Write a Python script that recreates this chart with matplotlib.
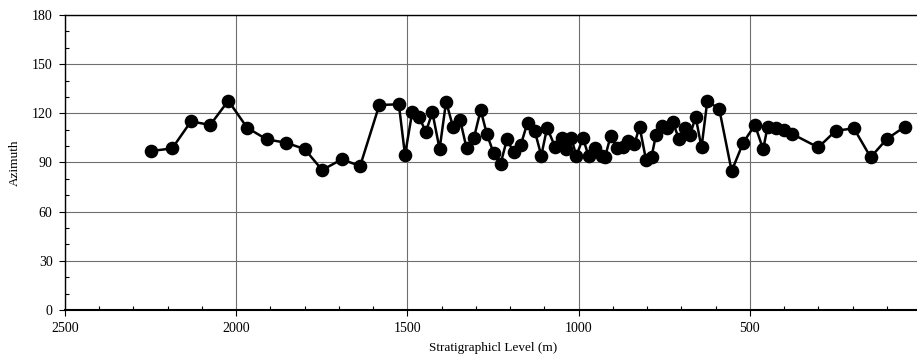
import matplotlib
matplotlib.use("Agg")
import matplotlib.pyplot as plt
from matplotlib.ticker import MultipleLocator

# stratigraphic level (m) and azimuth
level = [2249, 2187, 2132, 2076, 2023, 1968, 1911, 1855, 1800, 1749,
         1692, 1638, 1582, 1525, 1507, 1486, 1466, 1446, 1427, 1406,
         1387, 1367, 1346, 1327, 1306, 1286, 1268, 1248, 1228, 1209,
         1190, 1169, 1149, 1128, 1109, 1092, 1068, 1048, 1038, 1021,
         1007, 987, 971, 953, 933, 923, 906, 888, 870, 857,
         837, 822, 803, 787, 774, 756, 743, 725, 707, 689,
         675, 658, 641, 624, 589, 553, 519, 485, 461, 448,
         424, 400, 376, 300, 249, 196, 147, 100, 47]
azimuth = [97.0, 98.6, 115.1, 112.9, 127.7, 111.2, 104.1, 102.1, 98.2, 85.4,
           91.9, 87.9, 125.1, 125.5, 94.6, 120.6, 117.6, 108.8, 120.6, 98.2,
           127.1, 111.9, 115.9, 98.6, 104.8, 122.0, 107.4, 95.6, 89.1, 104.3,
           96.2, 100.7, 114.4, 109.2, 94.2, 111.2, 99.2, 104.9, 98.0, 105.1,
           94.0, 104.8, 94.0, 98.6, 94.0, 93.2, 106.4, 98.8, 99.2, 103.1,
           101.1, 111.9, 91.5, 93.5, 106.8, 112.3, 110.8, 114.9, 104.3, 110.8,
           106.8, 117.6, 99.2, 127.7, 122.4, 84.8, 102.2, 112.9, 98.0, 111.9,
           111.2, 109.8, 107.4, 99.2, 109.4, 110.8, 93.2, 104.3, 111.9]

plt.rcParams['font.family'] = ['Liberation Serif', 'DejaVu Serif']

fig = plt.figure(figsize=(9.17, 3.56), dpi=100)
ax = fig.add_axes([65 / 917, 1 - 310 / 356, (921 - 65) / 917, (310 - 15) / 356])

ax.plot(level, azimuth, color='black', lw=1.8, marker='o', ms=8.8,
        markerfacecolor='black', markeredgecolor='black', zorder=3)

ax.set_xlim(2500, 0)
ax.set_ylim(0, 180)
ax.xaxis.set_major_locator(MultipleLocator(500))
ax.xaxis.set_minor_locator(MultipleLocator(100))
ax.yaxis.set_major_locator(MultipleLocator(30))
ax.yaxis.set_minor_locator(MultipleLocator(10))
ax.set_xticks([2500, 2000, 1500, 1000, 500])

ax.grid(True, which='major', color='#6e6e6e', lw=0.8)
ax.tick_params(axis='both', which='major', direction='out', length=4,
               width=0.8, labelsize=10, pad=5)
ax.tick_params(axis='both', which='minor', direction='in', length=3, width=0.8)
ax.tick_params(axis='y', which='both', right=False)
ax.tick_params(axis='x', which='both', top=False)

ax.spines['right'].set_visible(False)
for s in ['left', 'bottom', 'top']:
    ax.spines[s].set_linewidth(1.0)
ax.spines['bottom'].set_linewidth(1.5)

ax.set_xlabel('Stratigraphicl Level (m)', fontsize=9.5)
ax.set_ylabel('Azimuth', fontsize=9.5)
ax.xaxis.set_label_coords(0.5, -0.108)
ax.yaxis.set_label_coords(-0.052, 0.5)

fig.savefig('out.png', dpi=100)
